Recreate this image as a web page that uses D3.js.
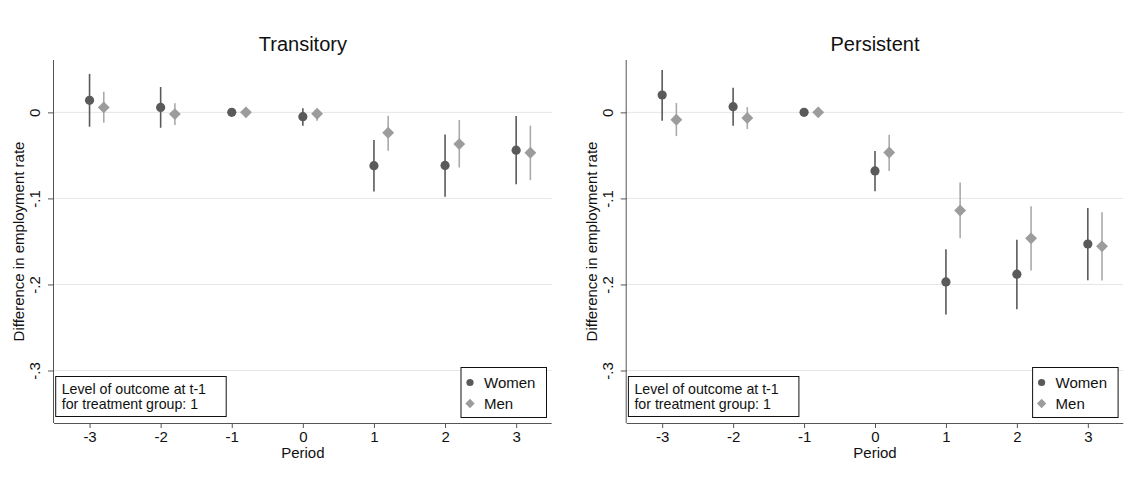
<!DOCTYPE html>
<html>
<head>
<meta charset="utf-8">
<script src="https://cdn.jsdelivr.net/npm/d3@7"></script>
<style>
  body { margin: 0; background: #fff; }
  text { font-family: "Liberation Sans", Arial, sans-serif; fill: #111; }
</style>
</head>
<body>
<svg id="chart" width="1142" height="490"></svg>
<script>
// ---- Data ----
const periods = [-3, -2, -1, 0, 1, 2, 3];
const yTicks = [0, -0.1, -0.2, -0.3];
const yTickLabels = ["0", "-.1", "-.2", "-.3"];
const panelTitles = ["Transitory", "Persistent"];
const seriesNames = ["Women", "Men"];
const noteLines = ["Level of outcome at t-1", "for treatment group: 1"];

// Transitory
const transWomen   = [0.014, 0.0058, 0, -0.005, -0.062, -0.0617, -0.0439];
const transWomenLo = [-0.0167, -0.0179, null, -0.0155, -0.092, -0.098, -0.0835];
const transWomenHi = [0.0447, 0.0295, null, 0.0047, -0.032, -0.0256, -0.0043];
const transMen     = [0.0058, -0.002, 0, -0.0016, -0.0237, -0.0369, -0.047];
const transMenLo   = [-0.012, -0.0148, null, -0.0097, -0.0447, -0.064, -0.0788];
const transMenHi   = [0.024, 0.0105, null, 0.0035, -0.0039, -0.0089, -0.0155];

// Persistent
const persWomen    = [0.0202, 0.0066, 0, -0.068, -0.197, -0.188, -0.153];
const persWomenLo  = [-0.0097, -0.0155, null, -0.0917, -0.235, -0.2287, -0.195];
const persWomenHi  = [0.0493, 0.0287, null, -0.045, -0.159, -0.148, -0.111];
const persMen      = [-0.0085, -0.0066, 0, -0.0466, -0.114, -0.1464, -0.1557];
const persMenLo    = [-0.0276, -0.0194, null, -0.068, -0.1464, -0.1837, -0.1953];
const persMenHi    = [0.0109, 0.0062, null, -0.026, -0.0816, -0.109, -0.116];

const menOffset = 0.2;

const panels = [
  { title: panelTitles[0], left: 54, right: 551.7,
    women: transWomen, womenLo: transWomenLo, womenHi: transWomenHi,
    men: transMen, menLo: transMenLo, menHi: transMenHi },
  { title: panelTitles[1], left: 626.7, right: 1123.3,
    women: persWomen, womenLo: persWomenLo, womenHi: persWomenHi,
    men: persMen, menLo: persMenLo, menHi: persMenHi }
];

const plotTop = 60, plotBottom = 423;
const womenColor = "#5a5a5a", womenCI = "#5a5a5a";
const menColor = "#9c9c9c", menCI = "#aaaaaa";
const fs = 15;

const svg = d3.select("#chart");

panels.forEach(p => {
  const g = svg.append("g");
  const x = d3.scaleLinear().domain([-3.5, 3.5]).range([p.left, p.right]);
  const y = d3.scaleLinear().domain([-0.361, 0.0597]).range([plotBottom, plotTop + 1]);

  // gridlines
  g.selectAll(".grid").data(yTicks).enter().append("line")
    .attr("x1", p.left).attr("x2", p.right)
    .attr("y1", d => y(d)).attr("y2", d => y(d))
    .attr("stroke", "#e6e6e6").attr("stroke-width", 1);

  // y axis
  const yAxis = d3.axisLeft(y).tickValues(yTicks)
    .tickFormat((d, i) => yTickLabels[i]).tickSize(6).tickPadding(4);
  const ya = g.append("g").attr("transform", `translate(${p.left},0)`).call(yAxis);
  ya.select(".domain").attr("d", `M-0.5,${plotTop}V${plotBottom}`).attr("stroke", "#555");
  ya.selectAll(".tick line").attr("stroke", "#555");
  ya.selectAll(".tick text")
    .attr("font-size", fs).attr("fill", "#111")
    .attr("text-anchor", "middle")
    .attr("transform", "translate(-19,0) rotate(-90)")
    .attr("x", 0).attr("y", 0).attr("dy", "0.35em");

  // x axis
  const xAxis = d3.axisBottom(x).tickValues(periods).tickFormat(d3.format("d")).tickSize(5).tickPadding(3);
  const xa = g.append("g").attr("transform", `translate(0,${plotBottom})`).call(xAxis);
  xa.select(".domain").attr("d", `M${p.left},0.5H${p.right}`).attr("stroke", "#555");
  xa.selectAll(".tick line").attr("stroke", "#555");
  xa.selectAll(".tick text").attr("font-size", fs).attr("fill", "#111")
    .text(d => d < 0 ? "-" + Math.abs(d) : String(d));

  // title
  g.append("text").attr("x", (p.left + p.right) / 2).attr("y", 51)
    .attr("text-anchor", "middle").attr("font-size", 20).text(p.title);

  // axis titles
  g.append("text").attr("x", (p.left + p.right) / 2).attr("y", 458)
    .attr("text-anchor", "middle").attr("font-size", fs).text("Period");
  g.append("text")
    .attr("transform", `translate(${p.left - 30},${(plotTop + plotBottom) / 2}) rotate(-90)`)
    .attr("text-anchor", "middle").attr("font-size", fs)
    .text("Difference in employment rate");

  // CI lines
  const drawCI = (lo, hi, off, color) => {
    g.selectAll(null).data(periods.map((d, i) => ({ p: d, lo: lo[i], hi: hi[i] })).filter(d => d.lo !== null))
      .enter().append("line")
      .attr("x1", d => x(d.p + off)).attr("x2", d => x(d.p + off))
      .attr("y1", d => y(d.lo)).attr("y2", d => y(d.hi))
      .attr("stroke", color).attr("stroke-width", 1.6);
  };
  drawCI(p.womenLo, p.womenHi, 0, womenCI);
  drawCI(p.menLo, p.menHi, menOffset, menCI);

  // markers
  g.selectAll(null).data(periods.map((d, i) => ({ p: d, v: p.women[i] }))).enter()
    .append("circle").attr("cx", d => x(d.p)).attr("cy", d => y(d.v)).attr("r", 4.6)
    .attr("fill", womenColor);
  const diamond = d3.symbol().type(d3.symbolDiamond2).size(90);
  g.selectAll(null).data(periods.map((d, i) => ({ p: d, v: p.men[i] }))).enter()
    .append("path").attr("d", diamond)
    .attr("transform", d => `translate(${x(d.p + menOffset)},${y(d.v)})`)
    .attr("fill", menColor);

  // annotation box
  const ax = p.left + 1.7, ay = 376.5;
  g.append("rect").attr("x", ax).attr("y", ay).attr("width", 170.5).attr("height", 40)
    .attr("fill", "#fff").attr("stroke", "#111").attr("stroke-width", 1);
  g.append("text").attr("x", ax + 6).attr("y", ay + 17).attr("font-size", 14.2).text(noteLines[0]);
  g.append("text").attr("x", ax + 6).attr("y", ay + 32).attr("font-size", 14.2).text(noteLines[1]);

  // legend
  const lx = p.right - 90.7, ly = 367.5;
  g.append("rect").attr("x", lx).attr("y", ly).attr("width", 85.5).attr("height", 50)
    .attr("fill", "#fff").attr("stroke", "#111").attr("stroke-width", 1);
  g.append("circle").attr("cx", lx + 9).attr("cy", ly + 15).attr("r", 3.6).attr("fill", womenColor);
  g.append("path").attr("d", d3.symbol().type(d3.symbolDiamond2).size(55))
    .attr("transform", `translate(${lx + 9},${ly + 36})`).attr("fill", menColor);
  g.append("text").attr("x", lx + 23).attr("y", ly + 20).attr("font-size", fs).text(seriesNames[0]);
  g.append("text").attr("x", lx + 23).attr("y", ly + 41).attr("font-size", fs).text(seriesNames[1]);
});
</script>
</body>
</html>
